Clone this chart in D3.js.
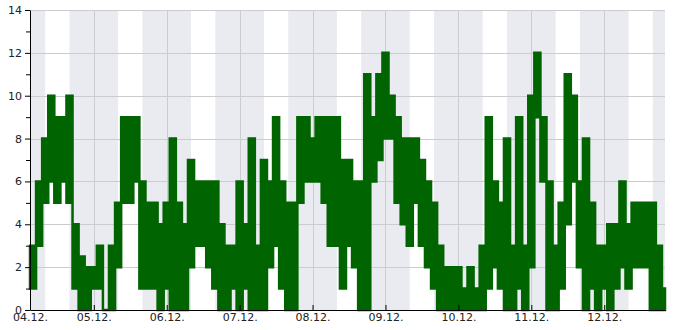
<!DOCTYPE html>
<html lang="en">
<head>
<meta charset="UTF-8">
<title>Hourly values</title>
<script src="https://d3js.org/d3.v7.min.js"></script>
<style>
  body { margin: 0; background: #fff; }
  svg { display: block; }
  .axis text { font-family: "DejaVu Sans", sans-serif; font-size: 11px; fill: #222; }
  .axis path, .axis line { stroke: #000; }
</style>
</head>
<body>
<svg width="685" height="330"></svg>
<script>
// series start and end (local time)
var startTime = new Date(2023, 11, 4, 3);
var endTime = new Date(2023, 11, 12, 20);
var binHours = 2;

// highest and lowest reading in each 2-hour slot from 04.12. 03:00
var binHi = [
  3, 6, 8, 10, 9, 9, 10, 4, 2.5, 2, 2, 3,
  0, 3, 5, 9, 9, 9, 6, 5, 5, 4, 5, 8,
  5, 4, 7, 6, 6, 6, 6, 4, 3, 3, 6, 4,
  8, 3, 7, 6, 9, 6, 5, 5, 9, 9, 8, 9,
  9, 9, 9, 7, 7, 6, 6, 11, 9, 11, 12, 10,
  9, 8, 8, 8, 7, 6, 5, 3, 2, 2, 2, 1,
  2, 1, 3, 9, 6, 5, 8, 3, 9, 3, 10, 12,
  9, 6, 3, 5, 11, 10, 6, 8, 5, 3, 3, 4,
  4, 6, 4, 5, 5, 5, 5, 3, 1
];
var binLo = [
  1, 3, 5, 6, 5, 6, 5, 1, 0, 0, 1, 1,
  0, 0, 2, 5, 5, 6, 1, 1, 1, 0, 1, 0,
  0, 0, 2, 3, 3, 2, 1, 0, 0, 1, 0, 1,
  0, 0, 0, 2, 3, 1, 0, 0, 5, 6, 6, 6,
  5, 3, 3, 1, 3, 2, 0, 0, 6, 7, 8, 8,
  5, 4, 3, 5, 3, 2, 1, 0, 0, 0, 0, 0,
  0, 0, 0, 1, 2, 1, 0, 0, 1, 0, 2, 9,
  6, 0, 0, 1, 4, 6, 2, 0, 1, 0, 1, 0,
  1, 2, 1, 2, 2, 2, 0, 0, 0
];

// day ticks (midnights) and night shading hours
var tickDays = ["2023-12-05", "2023-12-06", "2023-12-07", "2023-12-08", "2023-12-09", "2023-12-10", "2023-12-11", "2023-12-12"];
var nightStart = 16, nightEnd = 8;
var yTicks = [0, 1, 2, 3, 4, 5, 6, 7, 8, 9, 10, 11, 12, 13, 14];
var yMax = 14;

var margin = {left: 30, top: 10, right: 20, bottom: 20};
var W = 685 - margin.left - margin.right, H = 330 - margin.top - margin.bottom;

var svg = d3.select("svg");
var g = svg.append("g").attr("transform", "translate(" + margin.left + "," + margin.top + ")");

var x = d3.scaleTime().domain([startTime, endTime]).range([0, W]);
var y = d3.scaleLinear().domain([0, yMax]).range([H, 0]);

var days = tickDays.map(function (s) { var p = s.split("-"); return new Date(+p[0], +p[1] - 1, +p[2]); });

// night bands
var bands = [];
var d0 = d3.timeDay.offset(days[0], -2);
for (var i = 0; i < 11; i++) {
  var a = d3.timeHour.offset(d3.timeDay.offset(d0, i), nightStart);
  var b = d3.timeHour.offset(d3.timeDay.offset(d0, i + 1), nightEnd);
  if (b <= startTime || a >= endTime) continue;
  bands.push([a < startTime ? startTime : a, b > endTime ? endTime : b]);
}
g.selectAll("rect.band").data(bands).enter().append("rect")
  .attr("class", "band")
  .attr("x", function (d) { return x(d[0]); })
  .attr("width", function (d) { return x(d[1]) - x(d[0]); })
  .attr("y", 0).attr("height", H)
  .attr("fill", "#eaebf1");

// grid
g.selectAll("line.hgrid").data(yTicks.filter(function (v) { return v > 0 && v % 2 === 0; })).enter().append("line")
  .attr("x1", 0).attr("x2", W)
  .attr("y1", function (d) { return Math.round(y(d)) + 0.5; })
  .attr("y2", function (d) { return Math.round(y(d)) + 0.5; })
  .attr("stroke", "#cccccf").attr("stroke-width", 1);
g.selectAll("line.vgrid").data(days).enter().append("line")
  .attr("x1", function (d) { return Math.round(x(d)) + 0.5; })
  .attr("x2", function (d) { return Math.round(x(d)) + 0.5; })
  .attr("y1", 0).attr("y2", H)
  .attr("stroke", "#cccccf").attr("stroke-width", 1);

// data: each slot drawn as a band from its low to its high reading
var pts = binHi.map(function (v, i) { return {t: d3.timeHour.offset(startTime, i * binHours), hi: v, lo: binLo[i]}; });
pts.push({t: endTime, hi: binHi[binHi.length - 1], lo: binLo[binLo.length - 1]});
var area = d3.area()
  .x(function (d) { return x(d.t); })
  .y0(function (d) { return y(d.lo); })
  .y1(function (d) { return y(d.hi); })
  .curve(d3.curveStepAfter);
g.append("path").datum(pts)
  .attr("d", area)
  .attr("fill", "#006400")
  .attr("stroke", "#006400")
  .attr("stroke-width", 2.5)
  .attr("stroke-linejoin", "miter");

// axes
var fmt = d3.timeFormat("%d.%m.");
var xAxis = g.append("g").attr("class", "axis")
  .attr("transform", "translate(0," + H + ")")
  .call(d3.axisBottom(x).tickValues([startTime].concat(days)).tickFormat(fmt).tickSize(-5).tickSizeOuter(0).tickPadding(3));
xAxis.selectAll(".tick").filter(function (d, i) { return i === 0; }).select("line").remove();

var yAxis = g.append("g").attr("class", "axis")
  .call(d3.axisLeft(y).tickValues(yTicks).tickFormat(function (d) { return d % 2 === 0 ? d : ""; }).tickSize(5).tickSizeOuter(0).tickPadding(3));
yAxis.selectAll(".tick").filter(function (d) { return d % 2 !== 0; }).select("line").attr("x2", -4);
</script>
</body>
</html>
